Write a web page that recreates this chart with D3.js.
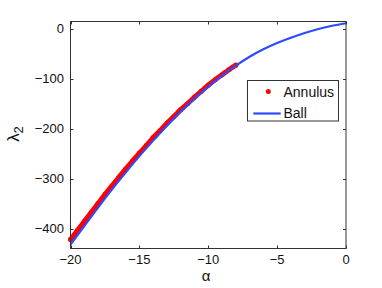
<!DOCTYPE html>
<html><head><meta charset="utf-8">
<script src="https://cdn.jsdelivr.net/npm/d3@7"></script>
<style>body{margin:0;background:#fff;}svg{display:block;font-family:"Liberation Sans",Arial,sans-serif;}</style>
</head><body>
<svg id="c" width="382" height="288"></svg>
<script>
const xTicks = [-20, -15, -10, -5, 0];
const yTicks = [-400, -300, -200, -100, 0];
const ballAlpha = [-20,-19,-18,-17,-16,-15,-14,-13,-12,-11,-10,-9,-8,-7,-6,-5,-4,-3,-2,-1,0];
const ballValues = [-432,-395,-358,-322,-288,-255,-224,-194,-166,-140,-116,-94,-74,-56,-41,-28.5,-18,-8.5,-0.5,6,11];
const annulusAlpha = [-20,-19.5,-19,-18.5,-18,-17.5,-17,-16.5,-16,-15.5,-15,-14.5,-14,-13.5,-13,-12.5,-12,-11.5,-11,-10.5,-10,-9.5,-9,-8.5,-8];
const annulusValues = [-422,-404,-386,-368,-350,-332,-315,-298,-281,-265,-249,-234,-218,-204,-189,-176,-162,-150,-137,-125,-113,-102,-92,-82,-73];
const seriesNames = ["Annulus", "Ball"];

const svg = d3.select("#c");
const L = 70.5, R = 346, T = 21.5, B = 248.5;
const x = d3.scaleLinear().domain([-20, 0]).range([L, R]);
const y = d3.scaleLinear().domain([-440, 14.5]).range([B, T]);
const axisColor = "#333";
const blue = "#2b4bff", red = "#ff0000";

// data
const ann = annulusAlpha.map((a, i) => [a, annulusValues[i]]);
const ball = ballAlpha.map((a, i) => [a, ballValues[i]]);
const g = svg.append("g");
g.append("path").datum(ann)
  .attr("d", d3.line().x(d => x(d[0])).y(d => y(d[1])).curve(d3.curveNatural))
  .attr("fill", "none").attr("stroke", red).attr("stroke-width", 5).attr("stroke-linecap", "round");
g.selectAll("circle.ann").data(ann).join("circle").attr("class", "ann")
  .attr("cx", d => x(d[0])).attr("cy", d => y(d[1])).attr("r", 2.5).attr("fill", red);
g.append("path").datum(ball)
  .attr("d", d3.line().x(d => x(d[0])).y(d => y(d[1])).curve(d3.curveNatural))
  .attr("fill", "none").attr("stroke", blue).attr("stroke-width", 2.2);

// axes
const tl = 3;
const ax = svg.append("g").attr("stroke", axisColor).attr("fill", "none").attr("stroke-width", 1);
ax.append("rect").attr("x", L).attr("y", T).attr("width", R - L).attr("height", B - T);
xTicks.forEach(t => {
  const px = Math.round(x(t)) + 0.5;
  ax.append("line").attr("x1", px).attr("x2", px).attr("y1", B).attr("y2", B - tl);
  ax.append("line").attr("x1", px).attr("x2", px).attr("y1", T).attr("y2", T + tl);
});
yTicks.forEach(t => {
  const py = Math.round(y(t)) + 0.5;
  ax.append("line").attr("x1", L).attr("x2", L + tl).attr("y1", py).attr("y2", py);
  ax.append("line").attr("x1", R).attr("x2", R - tl).attr("y1", py).attr("y2", py);
});
const fmt = v => v < 0 ? "\u2212" + Math.abs(v) : String(v);
svg.append("g").selectAll("text").data(xTicks).join("text")
  .attr("x", d => x(d)).attr("y", 263.5).attr("text-anchor", "middle")
  .attr("font-size", 13).attr("fill", "#111").text(fmt);
svg.append("g").selectAll("text").data(yTicks).join("text")
  .attr("x", 64).attr("y", d => y(d) + 4.5).attr("text-anchor", "end")
  .attr("font-size", 13).attr("fill", "#111").text(fmt);

// labels
svg.append("text").attr("x", 206).attr("y", 281).attr("text-anchor", "middle")
  .attr("font-size", 15).attr("fill", "#111").text("\u03b1");
const yl = svg.append("text").attr("transform", "translate(19,134) rotate(-90)")
  .attr("text-anchor", "middle").attr("font-size", 17).attr("fill", "#111");
yl.append("tspan").text("\u03bb");
yl.append("tspan").attr("font-size", 13).attr("dy", 4).text("2");

// legend
const lg = svg.append("g");
lg.append("rect").attr("x", 247.5).attr("y", 80.5).attr("width", 91).attr("height", 40.5)
  .attr("fill", "#fff").attr("stroke", axisColor);
lg.append("circle").attr("cx", 268.3).attr("cy", 91.5).attr("r", 2.5).attr("fill", red);
lg.append("line").attr("x1", 253.3).attr("x2", 280.7).attr("y1", 113.5).attr("y2", 113.5)
  .attr("stroke", blue).attr("stroke-width", 2.2);
lg.selectAll("text").data(seriesNames).join("text")
  .attr("x", 283.5).attr("y", (d, i) => 96.5 + i * 21.5).attr("font-size", 14).attr("fill", "#111").text(d => d);
</script>
</body></html>
